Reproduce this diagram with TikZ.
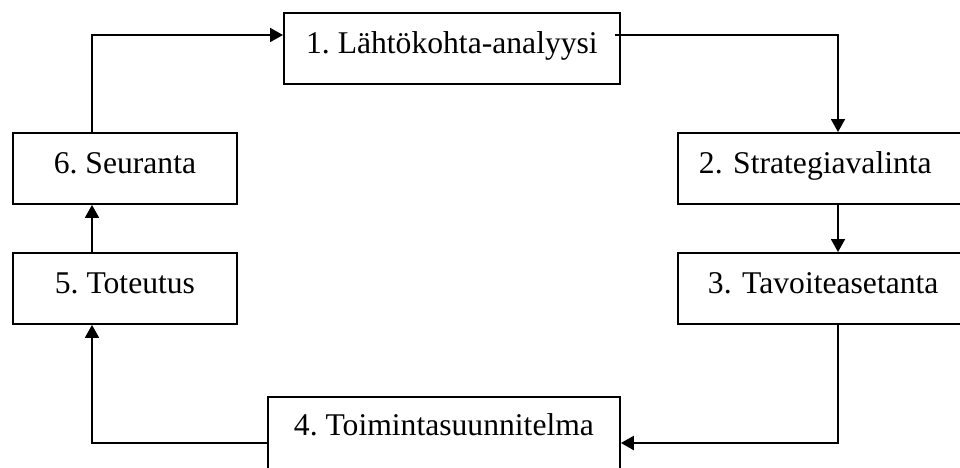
\documentclass[tikz,border=0pt]{standalone}
\usepackage{fontspec}
\setmainfont{Liberation Serif}
\usetikzlibrary{arrows.meta,calc}
\frenchspacing

\tikzset{
  stage/.style={draw, line width=1.1pt, rectangle, anchor=north west,
    text height=0.82cm, text depth=0.6cm, inner ysep=0pt,
    font=\fontsize{18pt}{21pt}\selectfont},
  flow/.style={line width=1.1pt, -{Triangle[length=0.26cm,width=0.28cm]}}
}

\begin{document}
\begin{tikzpicture}[x=0.02cm, y=-0.02cm]
			%%%%% FRAME %%%%%
			\useasboundingbox (0, 0) rectangle (960, 467);
			\clip (0, 0) rectangle (960, 467);
			
			%%%%% STAGES %%%%%
			\node[stage, minimum width=6.72cm] (s1) at (283, 12) {1. Lähtökohta-analyysi};
			\node[stage, text width=5.16cm, align=left, inner xsep=0.42cm] (s2) at (677, 132) {2. Strategiavalinta};
			\node[stage, text width=4.8cm, align=left, inner xsep=0.6cm] (s3) at (677, 252) {3. Tavoiteasetanta};
			\node[stage, minimum width=7.04cm, text height=0.78cm, text depth=0.9cm] (s4) at (267, 396) {4. Toimintasuunnitelma};
			\node[stage, minimum width=4.48cm] (s5) at (12, 252) {5. Toteutus};
			\node[stage, minimum width=4.48cm] (s6) at (12, 132) {6. Seuranta};
			
			%%%%% GUIDES %%%%%
			\coordinate (lx) at (92, 0);
			\coordinate (rx) at (838, 0);
			\coordinate (ty) at (0, 35);
			\coordinate (by) at (0, 443);
			
			%%%%% LOOP %%%%%
			\draw[flow] (s6.north -| lx) |- (s1.west |- ty);
			\draw[flow] ($(s1.east |- ty)+(-6, 0)$) -| (s2.north -| rx);
			\draw[flow] (s2.south -| rx) -- (s3.north -| rx);
			\draw[flow] (s3.south -| rx) |- (s4.east |- by);
			\draw[flow] (s4.west |- by) -| (s5.south -| lx);
			\draw[flow] (s5.north -| lx) -- (s6.south -| lx);
		\end{tikzpicture}
\end{document}
